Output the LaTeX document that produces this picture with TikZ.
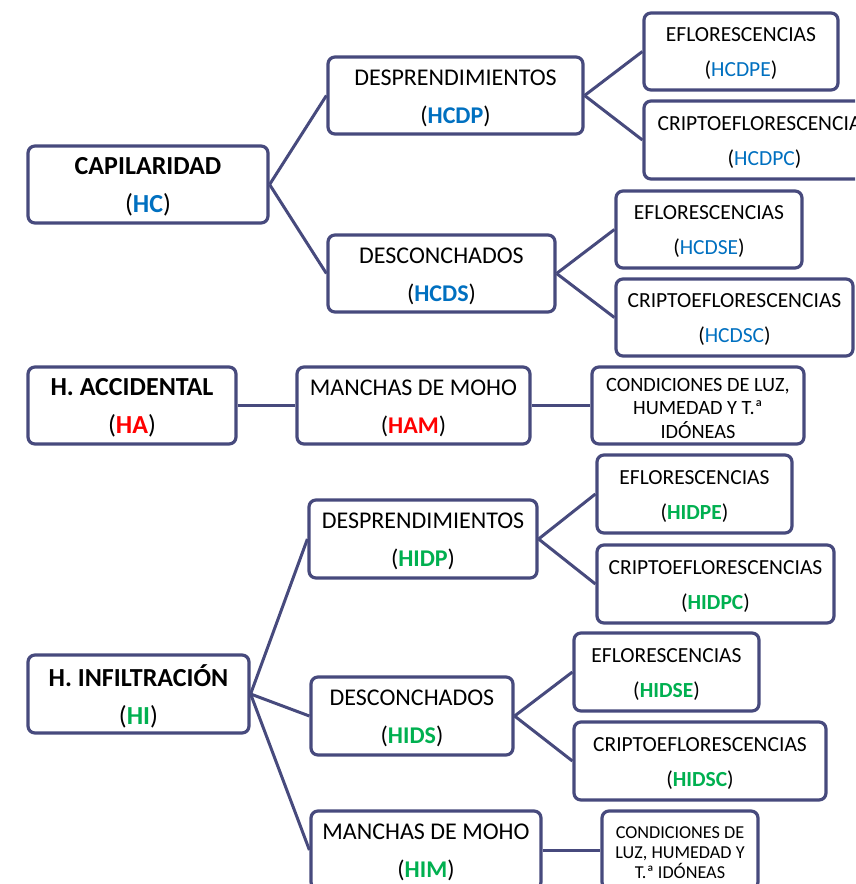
\documentclass[tikz,border=0pt]{standalone}
\usepackage{fontspec}
\setmainfont{Carlito}
\definecolor{bordercol}{RGB}{71,74,125}
\definecolor{codeblue}{RGB}{0,112,192}
\definecolor{codered}{RGB}{255,0,0}
\definecolor{codegreen}{RGB}{0,176,80}
\tikzset{
  box/.style={draw=bordercol, line width=3.2pt, rounded corners=7pt, fill=white, inner sep=0pt},
  boxtext/.style={inner sep=0pt, align=center, yshift=-2.5pt},
  conn/.style={draw=bordercol, line width=3pt},
  lvlA/.style={font=\fontsize{26}{38}\selectfont},
  lvlB/.style={font=\fontsize{24}{38}\selectfont},
  lvlC/.style={font=\fontsize{21.5}{35}\selectfont},
  lvlD/.style={font=\fontsize{20.3}{23.5}\selectfont},
  lvlE/.style={font=\fontsize{18.2}{20}\selectfont},
}
\newcommand{\bx}[7]{% name, x1,y1,x2,y2, style, text
  \path ({(#2+#4)/2},{(#3+#5)/2}) node[box,minimum width={(#4-#2)*1pt},minimum height={(#5-#3)*1pt}] (#1) {};
  \path (#1.center) node[boxtext,#6] (#1-t) {#7};}
\begin{document}
\begin{tikzpicture}[x=1pt,y=-1pt]
\useasboundingbox (0,0) rectangle (855,884);
\clip (0,0) rectangle (855,884);
% top group
\bx{HC}{28}{146}{268}{223}{lvlA}{\textbf{CAPILARIDAD}\\(\textcolor{codeblue}{\textbf{HC}})}
\bx{HCDP}{328}{57}{583}{134}{lvlB}{DESPRENDIMIENTOS\\(\textcolor{codeblue}{\textbf{HCDP}})}
\bx{HCDS}{328}{235}{555}{312}{lvlB}{DESCONCHADOS\\(\textcolor{codeblue}{\textbf{HCDS}})}
\bx{HCDPE}{644}{13}{838}{90}{lvlC}{EFLORESCENCIAS\\(\textcolor{codeblue}{HCDPE})}
\bx{HCDPC}{644}{101}{885}{179}{lvlC}{CRIPTOEFLORESCENCIAS\\(\textcolor{codeblue}{HCDPC})}
\bx{HCDSE}{616}{191}{802}{268}{lvlC}{EFLORESCENCIAS\\(\textcolor{codeblue}{HCDSE})}
\bx{HCDSC}{616}{279}{853}{356}{lvlC}{CRIPTOEFLORESCENCIAS\\(\textcolor{codeblue}{HCDSC})}
% middle group
\bx{HA}{28}{367}{236}{444}{lvlA}{\textbf{H. ACCIDENTAL}\\(\textcolor{codered}{\textbf{HA}})}
\bx{HAM}{297}{367}{530}{444}{lvlB}{MANCHAS DE MOHO\\(\textcolor{codered}{\textbf{HAM}})}
\bx{HAC}{592}{367}{804}{444}{lvlD}{CONDICIONES DE LUZ,\\HUMEDAD Y T.ª\\IDÓNEAS}
% bottom group
\bx{HI}{28}{655}{249}{733}{lvlA}{\textbf{H. INFILTRACIÓN}\\(\textcolor{codegreen}{\textbf{HI}})}
\bx{HIDP}{309}{500}{537}{578}{lvlB}{DESPRENDIMIENTOS\\(\textcolor{codegreen}{\textbf{HIDP}})}
\bx{HIDPE}{597}{455}{792}{533}{lvlC}{EFLORESCENCIAS\\(\textcolor{codegreen}{\textbf{HIDPE}})}
\bx{HIDPC}{597}{545}{834}{623}{lvlC}{CRIPTOEFLORESCENCIAS\\(\textcolor{codegreen}{\textbf{HIDPC}})}
\bx{HIDS}{311}{677}{513}{755}{lvlB}{DESCONCHADOS\\(\textcolor{codegreen}{\textbf{HIDS}})}
\bx{HIDSE}{574}{633}{759}{711}{lvlC}{EFLORESCENCIAS\\(\textcolor{codegreen}{\textbf{HIDSE}})}
\bx{HIDSC}{574}{722}{826}{800}{lvlC}{CRIPTOEFLORESCENCIAS\\(\textcolor{codegreen}{\textbf{HIDSC}})}
\bx{HIM}{311}{811}{541}{889}{lvlB}{MANCHAS DE MOHO\\(\textcolor{codegreen}{\textbf{HIM}})}
\bx{HIC}{602}{811}{758}{889}{lvlE}{CONDICIONES DE\\LUZ, HUMEDAD Y\\T.ª IDÓNEAS}
% connectors
\draw[conn] (HC.east) -- (HCDP.west);
\draw[conn] (HC.east) -- (HCDS.west);
\draw[conn] (HCDP.east) -- (HCDPE.west);
\draw[conn] (HCDP.east) -- (HCDPC.west);
\draw[conn] (HCDS.east) -- (HCDSE.west);
\draw[conn] (HCDS.east) -- (HCDSC.west);
\draw[conn] (HA.east) -- (HAM.west);
\draw[conn] (HAM.east) -- (HAC.west);
\draw[conn] (HI.east) -- (HIDP.west);
\draw[conn] (HI.east) -- (HIDS.west);
\draw[conn] (HI.east) -- (HIM.west);
\draw[conn] (HIDP.east) -- (HIDPE.west);
\draw[conn] (HIDP.east) -- (HIDPC.west);
\draw[conn] (HIDS.east) -- (HIDSE.west);
\draw[conn] (HIDS.east) -- (HIDSC.west);
\draw[conn] (HIM.east) -- (HIC.west);
\end{tikzpicture}
\end{document}
